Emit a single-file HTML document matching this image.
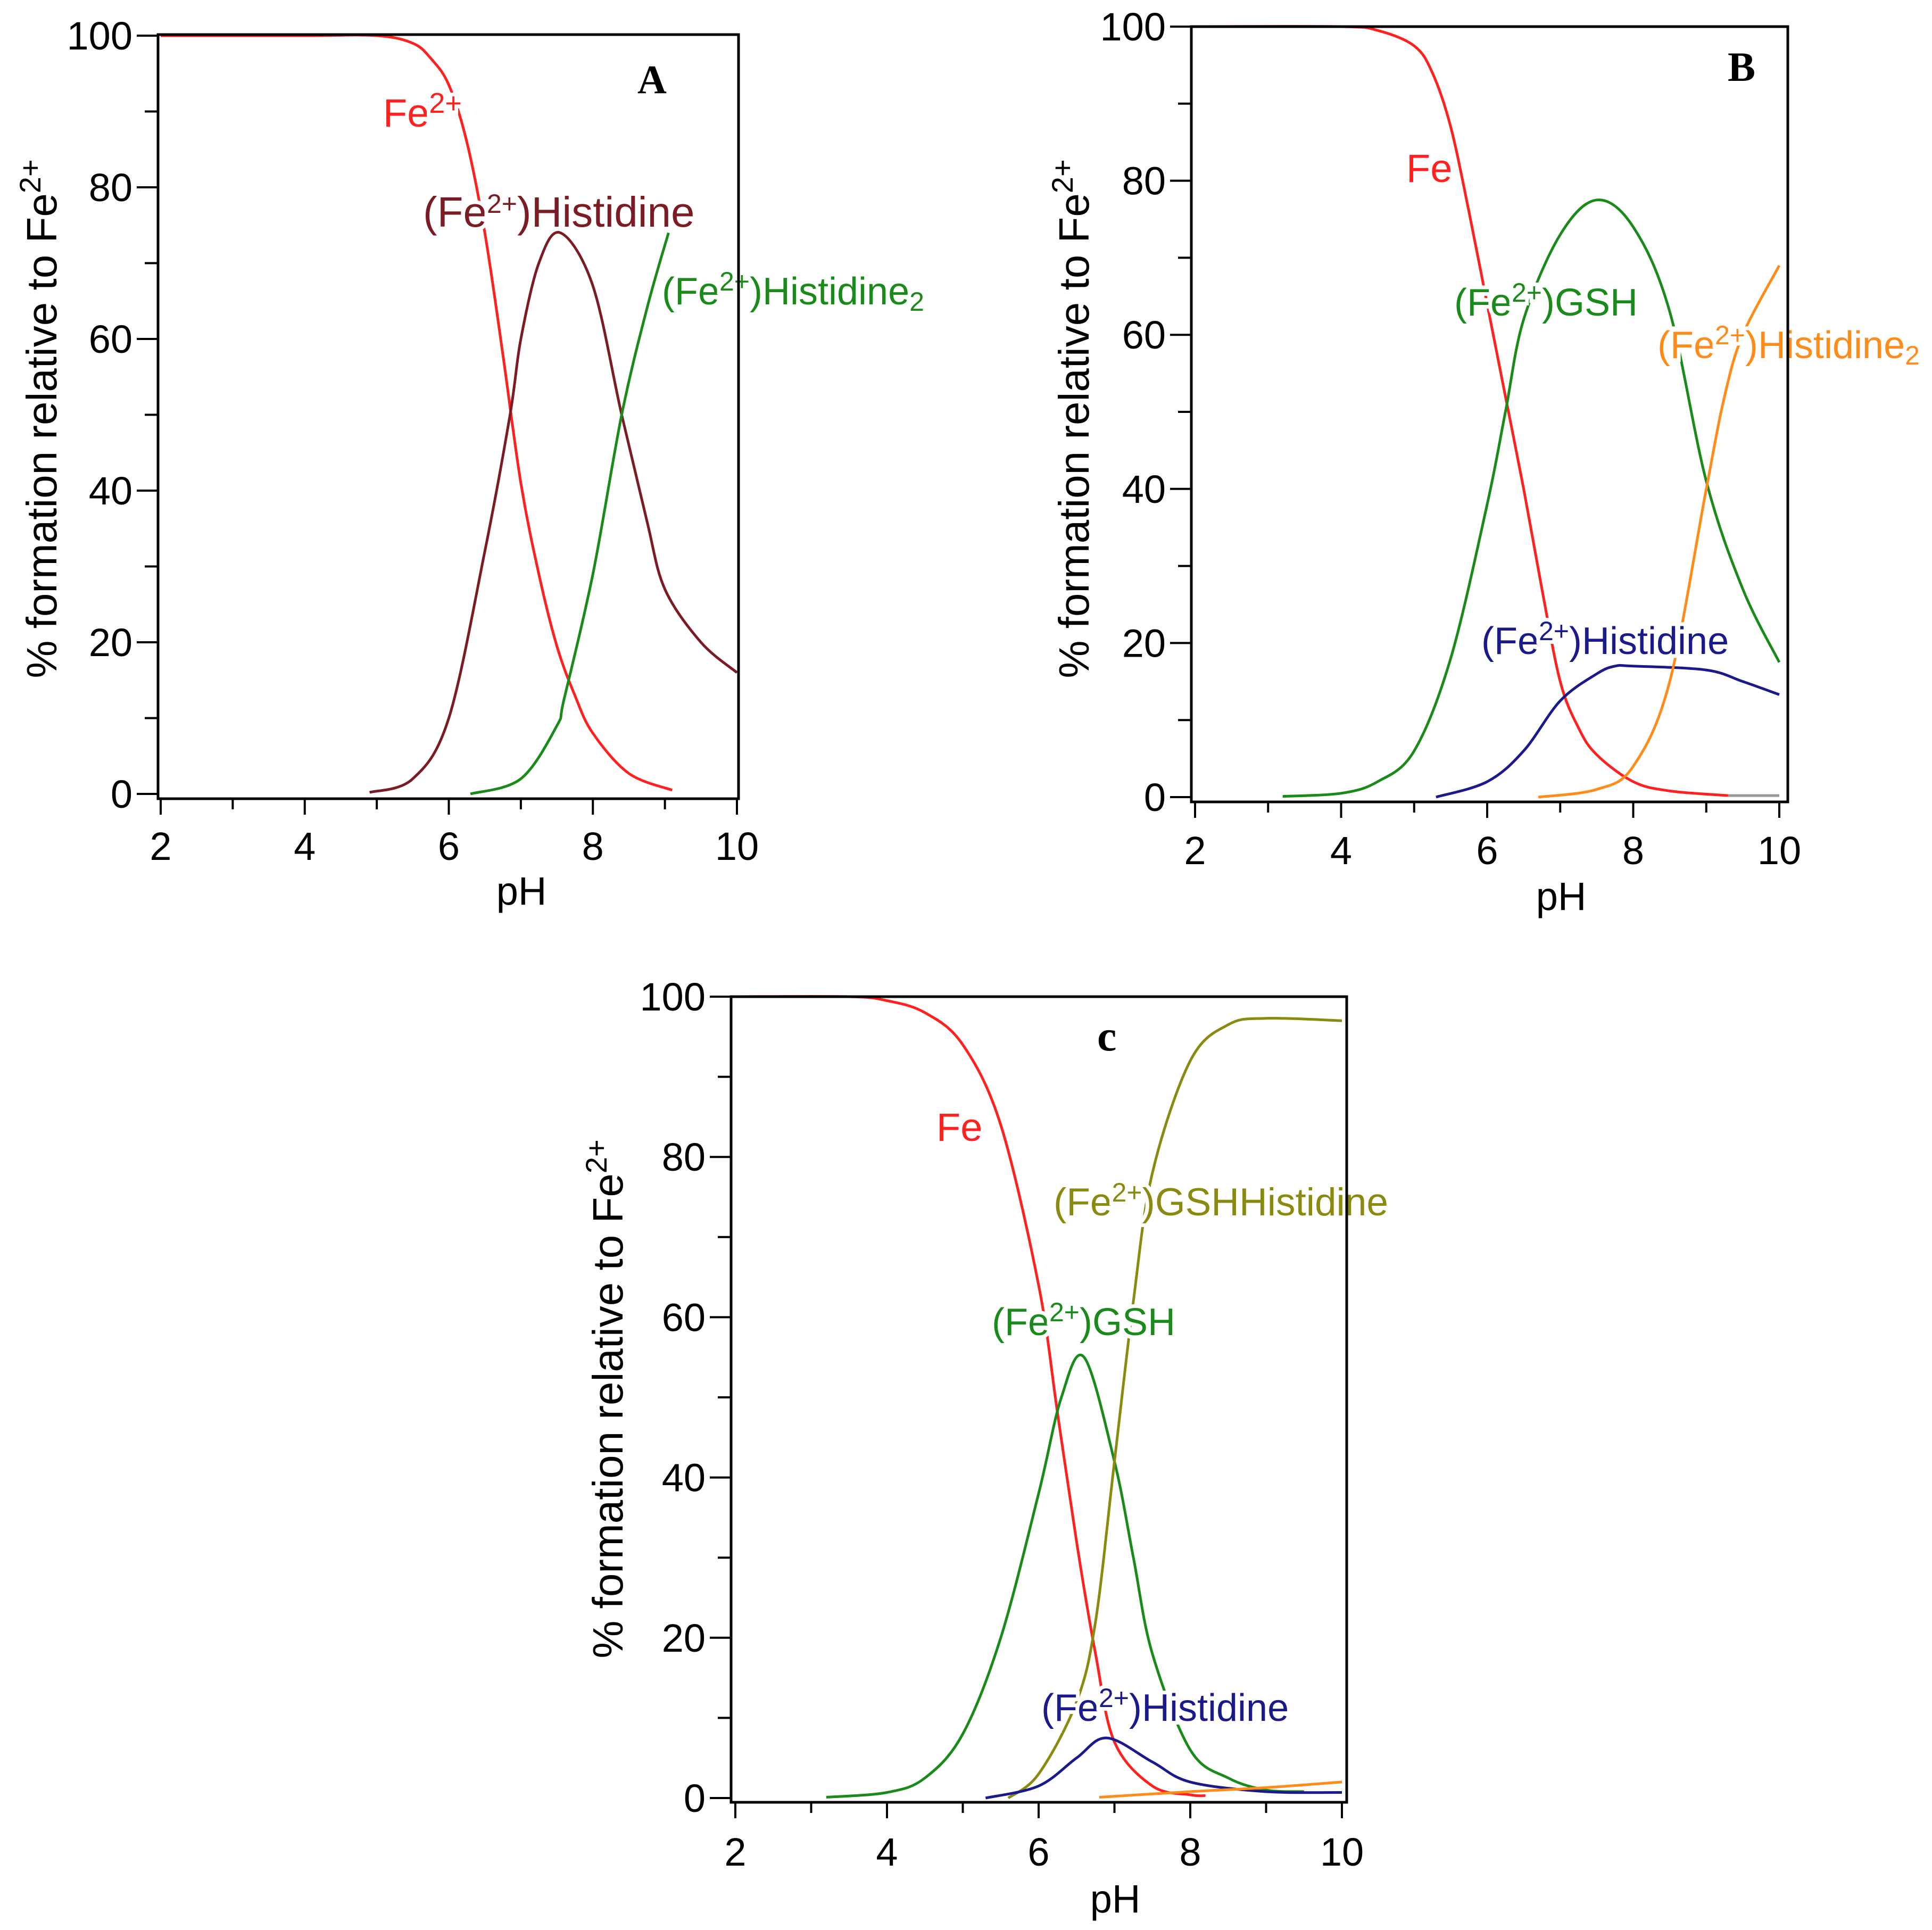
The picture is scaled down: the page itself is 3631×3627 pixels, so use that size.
<!DOCTYPE html>
<html><head><meta charset="utf-8"><style>
html,body{margin:0;padding:0;background:#fff;}
svg{display:block;font-family:"Liberation Sans",Arial,sans-serif;}
</style></head><body>
<svg id="chart" width="3631" height="3627" viewBox="0 0 3631 3627" xmlns="http://www.w3.org/2000/svg"></svg>
<script>
// ---- Panel A data ----
const aFePH=[2,4,5,5.5,5.75,6,6.25,6.5,6.75,7,7.25,7.5,7.75,8,8.5,9.1];
const aFeVal=[100,100,100,99,97,93.5,86,74,58,41,29,19.5,13,8,2.7,0.5];
const aHisPH=[4.9,5.5,6,6.5,6.85,7,7.25,7.55,8,8.4,8.75,9,9.5,10];
const aHisVal=[0.2,2,10,32,50,60,70,74,67,50,36,27,20,16];
const aHis2PH=[6.3,7,7.5,7.6,8,8.4,8.75,9.05];
const aHis2Val=[0,2,9,12.5,29,50,64,74];
// ---- Panel B data ----
const bFePH=[2,4,4.5,5,5.25,5.5,5.75,6,6.25,6.5,6.75,7,7.25,7.5,8,8.5,9.3];
const bFeVal=[100,100,99.5,97.5,94,87,76,64,52,40,27,15,9,5.5,2,0.8,0.2];
const bGshPH=[3.2,4,4.5,5,5.5,6,6.25,6.5,7,7.5,8,8.5,9,9.5,10];
const bGshVal=[0.1,0.5,2,6,18,38,50,62,73,77.5,74,63,41,27,17.5];
const bHisPH=[5.3,6,6.5,7,7.5,7.75,8,9,9.5,10];
const bHisVal=[0,2,6,12.5,16,17,17,16.5,15,13.3];
const bHis2PH=[6.7,7.5,8,8.5,9,9.25,9.5,10];
const bHis2Val=[0,1,4,15,40,52,60,69];
const bTailPH=[9.3,10];
const bTailVal=[0.2,0.2];
// ---- Panel C data ----
const cFePH=[2,3.5,4,4.5,5,5.5,6,6.25,6.5,6.75,7,7.5,8,8.2];
const cFeVal=[100,100,99.5,98,94,84,64,48,32,18,7,1.5,0.4,0.3];
const cGshPH=[3.2,4,4.5,5,5.5,6,6.3,6.6,7,7.25,7.5,8,8.5,9,9.5];
const cGshVal=[0.1,0.7,2.5,8,20,38,50,55,42,30,18,6,2.5,1,0.8];
const cMixPH=[5.6,6,6.5,6.75,7,7.25,7.5,8,8.5,9,10];
const cMixVal=[0,3,12,22,42,62,78,92,96.5,97.3,97];
const cHisPH=[5.3,6,6.5,6.9,7.5,8,9,10];
const cHisVal=[0,1.5,5,7.5,4.5,2,0.8,0.7];
const cHis2PH=[6.8,8,9,10];
const cHis2Val=[0.1,0.8,1.3,2];

const xTicks=[2,4,6,8,10];
const yTicks=[0,20,40,60,80,100];

const NS="http://www.w3.org/2000/svg";
const svg=document.getElementById('chart');
function mk(tag,attrs,parent){const e=document.createElementNS(NS,tag);for(const k in attrs)e.setAttribute(k,attrs[k]);(parent||svg).appendChild(e);return e;}

function smooth(pts){
  let d="M"+pts[0][0].toFixed(1)+","+pts[0][1].toFixed(1);
  for(let i=0;i<pts.length-1;i++){
    const p0=pts[Math.max(0,i-1)],p1=pts[i],p2=pts[i+1],p3=pts[Math.min(pts.length-1,i+2)];
    const c1x=p1[0]+(p2[0]-p0[0])/6,c1y=p1[1]+(p2[1]-p0[1])/6;
    const c2x=p2[0]-(p3[0]-p1[0])/6,c2y=p2[1]-(p3[1]-p1[1])/6;
    d+=" C"+c1x.toFixed(1)+","+c1y.toFixed(1)+" "+c2x.toFixed(1)+","+c2y.toFixed(1)+" "+p2[0].toFixed(1)+","+p2[1].toFixed(1);
  }
  return d;
}

function panel(cfg){
  const g=mk('g',{});
  
  
  const X=v=>cfg.x2+(v-2)*(cfg.x10-cfg.x2)/8;
  const Y=v=>cfg.y0+(v)*(cfg.y100-cfg.y0)/100;
  cfg.series.forEach(s=>{
    const pts=s.ph.map((p,i)=>[X(p),Y(s.val[i])]);
    const p=mk('path',{d:smooth(pts),fill:'none',stroke:s.color,'stroke-width':5},g);
    
    
  });
  cfg.labels.forEach(l=>{
    const t=mk('text',{x:l.x,y:l.y,fill:l.color,'font-size':l.size||72,'font-weight':l.bold?'bold':'normal','font-family':l.serif?'"Liberation Serif",serif':'"Liberation Sans",sans-serif',stroke:l.serif?'none':'#fff','stroke-width':l.serif?0:14,'paint-order':'stroke'},g);
    
    
    t.innerHTML=l.html;
  });
  const fr=mk('rect',{x:cfg.fl,y:cfg.ft,width:cfg.fr-cfg.fl,height:cfg.fb-cfg.ft,fill:'none',stroke:'#000','stroke-width':5},g);
  
  
  for(let v=0;v<=100;v+=10){
    const major=v%20===0;
    const tk=mk('line',{x1:cfg.fl-(major?40:25),x2:cfg.fl,y1:Y(v),y2:Y(v),stroke:'#000','stroke-width':4},g);
    
    
  }
  yTicks.forEach(v=>{
    const t=mk('text',{x:cfg.fl-48,y:Y(v)+26,'text-anchor':'end','font-size':74,fill:'#000'},g);
    
    
    t.textContent=v;
  });
  for(let v=2;v<=10;v+=1){
    const major=v%2===0;
    const tk=mk('line',{x1:X(v),x2:X(v),y1:cfg.fb,y2:cfg.fb+(major?30:20),stroke:'#000','stroke-width':4},g);
    
    
  }
  xTicks.forEach(v=>{
    const t=mk('text',{x:X(v),y:cfg.xly,'text-anchor':'middle','font-size':74,fill:'#000'},g);
    
    
    t.textContent=v;
  });
  const xt=mk('text',{x:cfg.xtx,y:cfg.xty,'text-anchor':'middle','font-size':74,fill:'#000'},g);
  
  
  xt.textContent='pH';
  const yt=mk('text',{x:0,y:0,'text-anchor':'middle','font-size':80,fill:'#000',transform:`translate(${cfg.ytx},${cfg.yty}) rotate(-90)`},g);
  
  
  yt.innerHTML='% formation relative to Fe<tspan dy="-30" font-size="56">2+</tspan>';
}

const SUP='<tspan dy="-26" font-size="50">2+</tspan><tspan dy="26">';
panel({name:'panel-a',x2:302,x10:1385,y0:1492,y100:67,fl:297,fr:1388,ft:65,fb:1501,xly:1616,xtx:980,xty:1700,ytx:106,yty:787,
 series:[
  {id:'fe-curve-a',ph:aFePH,val:aFeVal,color:'#ff2020'},
  {id:'fe-histidine-curve-a',ph:aHisPH,val:aHisVal,color:'#7b1c24'},
  {id:'fe-histidine2-curve-a',ph:aHis2PH,val:aHis2Val,color:'#1a8a1a'}],
 labels:[
  {id:'label-panel-a',x:1198,y:175,html:'A',color:'#000',bold:true,serif:true,size:76},
  {id:'label-fe-a',x:720,y:238,html:'Fe<tspan dy="-26" font-size="54">2+</tspan>',color:'#ff2020',size:74},
  {id:'label-fe-histidine-a',x:795,y:426,html:'(Fe'+SUP+')Histidine</tspan>',color:'#7b1c24',size:80},
  {id:'label-fe-histidine2-a',x:1244,y:572,html:'(Fe'+SUP+')Histidine<tspan dy="12" font-size="50">2</tspan></tspan>',color:'#1a8a1a',size:72}]
});
panel({name:'panel-b',x2:2246,x10:3344,y0:1498,y100:50,fl:2239,fr:3360,ft:50,fb:1507,xly:1624,xtx:2934,xty:1710,ytx:2046,yty:787,
 series:[
  {id:'fe-curve-b',ph:bFePH,val:bFeVal,color:'#ff2020'},
  {id:'tail-curve-b',ph:bTailPH,val:bTailVal,color:'#999'},
  {id:'fe-gsh-curve-b',ph:bGshPH,val:bGshVal,color:'#1a8a1a'},
  {id:'fe-histidine-curve-b',ph:bHisPH,val:bHisVal,color:'#1a1a8a'},
  {id:'fe-histidine2-curve-b',ph:bHis2PH,val:bHis2Val,color:'#ff8c1a'}],
 labels:[
  {id:'label-panel-b',x:3247,y:152,html:'B',color:'#000',bold:true,serif:true,size:78},
  {id:'label-fe-b',x:2643,y:342,html:'Fe',color:'#ff2020',size:74},
  {id:'label-fe-gsh-b',x:2733,y:593,html:'(Fe'+SUP+')GSH</tspan>',color:'#1a8a1a',size:72},
  {id:'label-fe-histidine2-b',x:3115,y:673,html:'(Fe'+SUP+')Histidine<tspan dy="12" font-size="50">2</tspan></tspan>',color:'#ff8c1a',size:72},
  {id:'label-fe-histidine-b',x:2784,y:1229,html:'(Fe'+SUP+')Histidine</tspan>',color:'#1a1a8a',size:72}]
});
panel({name:'panel-c',x2:1382,x10:2522,y0:3379,y100:1873,fl:1374,fr:2531,ft:1873,fb:3387,xly:3506,xtx:2096,xty:3594,ytx:1170,yty:2629,
 series:[
  {id:'fe-curve-c',ph:cFePH,val:cFeVal,color:'#ff2020'},
  {id:'fe-gsh-curve-c',ph:cGshPH,val:cGshVal,color:'#1a8a1a'},
  {id:'fe-gsh-histidine-curve-c',ph:cMixPH,val:cMixVal,color:'#8a8a10'},
  {id:'fe-histidine-curve-c',ph:cHisPH,val:cHisVal,color:'#1a1a8a'},
  {id:'fe-histidine2-curve-c',ph:cHis2PH,val:cHis2Val,color:'#ff8c1a'}],
 labels:[
  {id:'label-panel-c',x:2062,y:1974,html:'c',color:'#000',bold:true,serif:true,size:82},
  {id:'label-fe-c',x:1760,y:2144,html:'Fe',color:'#ff2020',size:74},
  {id:'label-fe-gsh-histidine-c',x:1980,y:2284,html:'(Fe'+SUP+')GSHHistidine</tspan>',color:'#8a8a10',size:73},
  {id:'label-fe-gsh-c',x:1864,y:2509,html:'(Fe'+SUP+')GSH</tspan>',color:'#1a8a1a',size:72},
  {id:'label-fe-histidine-c',x:1957,y:3234,html:'(Fe'+SUP+')Histidine</tspan>',color:'#1a1a8a',size:72}]
});
</script>
</body></html>
